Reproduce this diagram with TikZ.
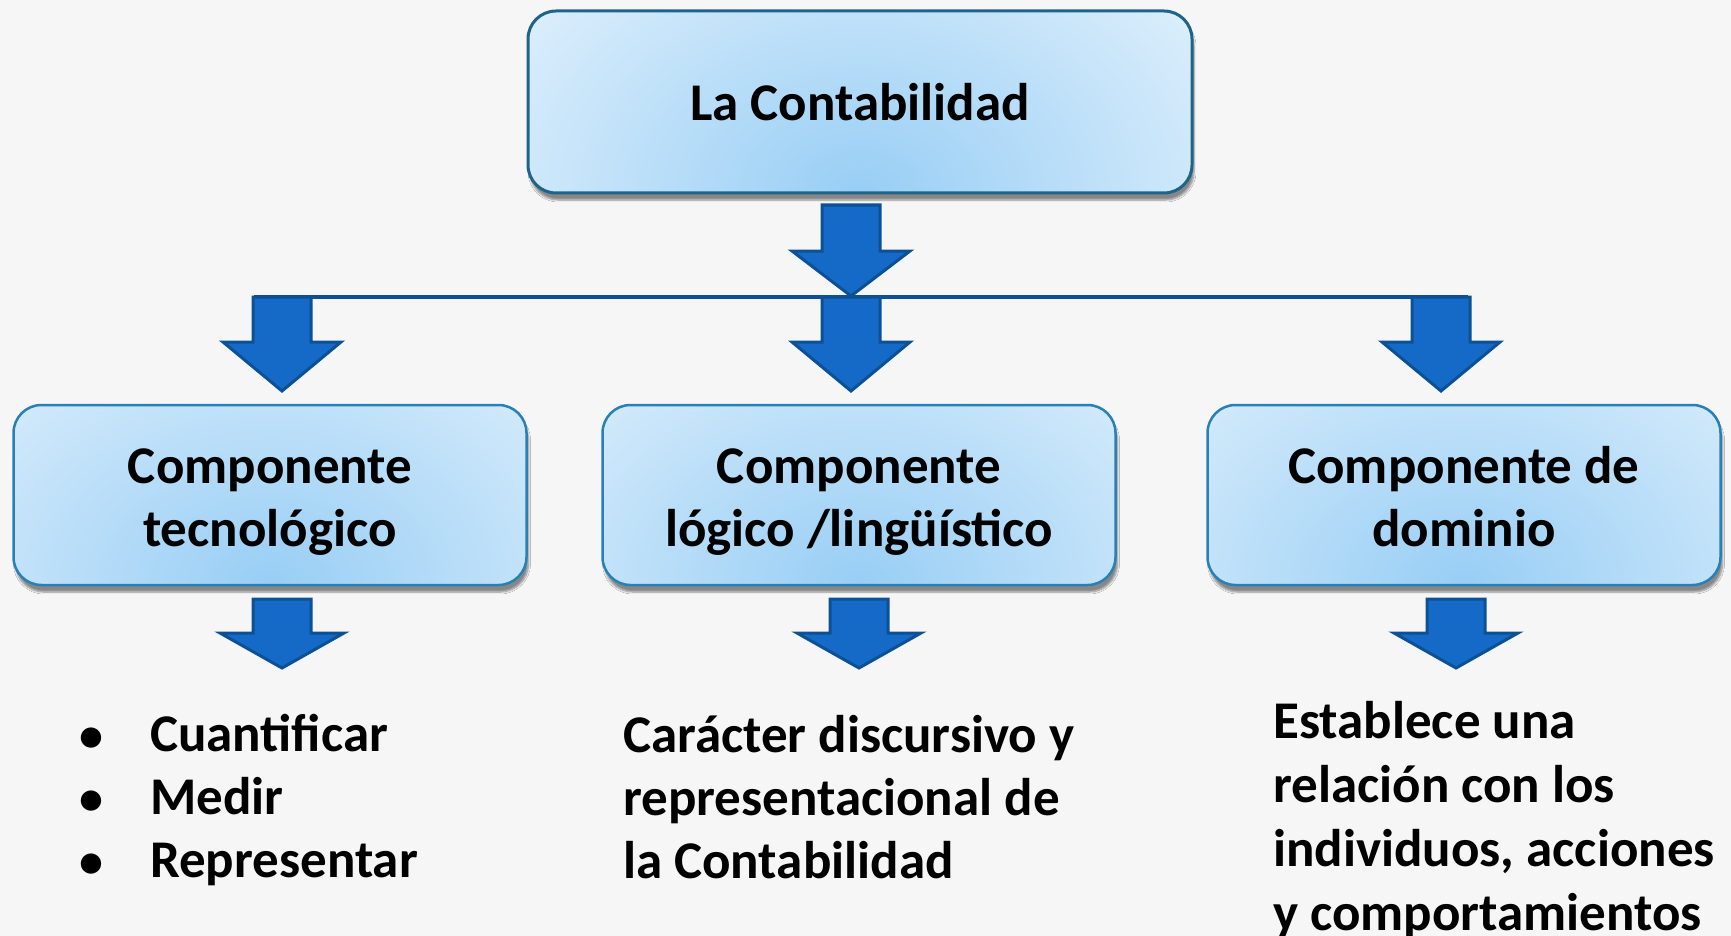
\documentclass[tikz,border=0pt]{standalone}
\usepackage{fontspec}
\setmainfont{Carlito}
\usepackage{tikz}
\usetikzlibrary{positioning,calc,shadows.blur}

\definecolor{bgcol}{RGB}{246,246,247}
\definecolor{arrfill}{RGB}{21,106,199}
\definecolor{arrline}{RGB}{12,80,150}
\definecolor{boxedge}{RGB}{234,245,253}
\definecolor{boxmid}{RGB}{152,206,245}
\definecolor{topline}{RGB}{30,100,135}
\definecolor{boxline}{RGB}{40,128,185}

\newcommand{\bul}{\makebox[71pt][l]{\fontsize{48}{48}\selectfont•}}

\begin{document}
\begin{tikzpicture}[x=1pt, y=-1pt,
		txt/.style={font=\bfseries\fontsize{53}{63}\selectfont, inner sep=0pt},
		cbox/.style={txt, draw=boxline, line width=2.5pt, rounded corners=28pt,
			minimum width=513pt, minimum height=180pt, align=center,
			text height=102pt, text depth=0pt,
			blur shadow={shadow xshift=2pt, shadow yshift=-7pt, shadow blur steps=6, shadow opacity=45},
			path picture={
				\fill[boxedge] (path picture bounding box.south west) rectangle (path picture bounding box.north east);
				\shade[inner color=boxmid, outer color=boxedge] (path picture bounding box.south) ellipse [x radius=500pt, y radius=370pt];
			}},
		arrbox/.style={fill=arrfill, draw=arrline, line width=3pt, miter limit=10},
		pics/blockarrow/.style args={#1/#2/#3}{code={
				\draw[arrbox] (-29,0) -- (29,0) -- (29,#1) -- (#3,#1) -- (0,#2) -- (-#3,#1) -- (-29,#1) -- cycle;
			}}
	]
	\fill[bgcol] (0,0) rectangle (1731,936);
	\useasboundingbox (0,0) rectangle (1731,936);

	% top box
	\node[cbox, draw=topline, line width=3pt, minimum width=664pt, minimum height=182pt, text height=38pt] (conta) at (860,102) {La Contabilidad};

	% components
	\node[cbox] (tecno) at (270,495) {Componente\\tecnológico};
	\node[cbox] (logico) at (859,495) {Componente\\lógico /lingüístico};
	\node[cbox] (domin) at (1464,495) {Componente de\\dominio};

	% arrows down from the top box
	\pic (atop) at (851,205) {blockarrow=46/91/59};
	\coordinate (hubL) at (254,297);
	\coordinate (hubR) at (1468,297);
	\draw[arrline, line width=4.5pt] (hubL) -- (hubR);
	\pic (arow1) at (282,297) {blockarrow=45/94/59};
	\pic (arow2) at (851,297) {blockarrow=45/94/59};
	\pic (arow3) at (1441,297) {blockarrow=45/94/59};

	% arrows below the components
	\pic (blow1) at (282,599) {blockarrow=34/69/62};
	\pic (blow2) at (859,599) {blockarrow=34/69/62};
	\pic (blow3) at (1456,599) {blockarrow=34/69/62};

	% texts (base = last line)
	\node[txt, anchor=base west, align=left] (lista) at (79,877)
		{\bul Cuantificar\\\bul Medir\\\bul Representar};
	\node[txt, anchor=base west, align=left] (caract) at (623,878)
		{Carácter discursivo y\\representacional de\\la Contabilidad};
	\node[txt, font=\bfseries\fontsize{53}{64}\selectfont, anchor=base west, align=left] (relac) at (1273,930)
		{Establece una\\relación con los\\individuos, acciones\\y comportamientos};
\end{tikzpicture}
\end{document}
